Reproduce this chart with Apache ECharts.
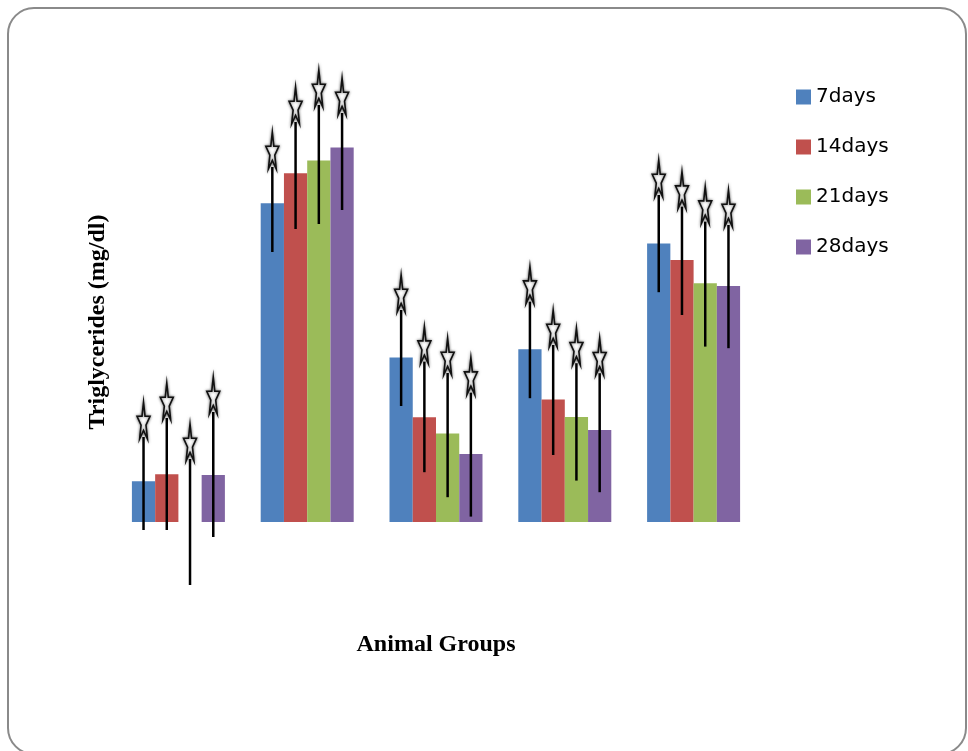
<!DOCTYPE html>
<html>
<head>
<meta charset="utf-8">
<script src="https://cdn.jsdelivr.net/npm/echarts@6/dist/echarts.min.js"></script>
<style>
  html, body { margin: 0; padding: 0; background: #fff; }
  #chart { width: 968px; height: 751px; }
</style>
</head>
<body>
<div id="chart"></div>
<script>
// Animal groups along the x axis (labels are not shown on the axis)
const groups = ['Group I', 'Group II', 'Group III', 'Group IV', 'Group V'];
const seriesNames = ['7days', '14days', '21days', '28days'];
const colors = ['#4F81BD', '#C0504D', '#9BBB59', '#8064A2'];

// Mean triglycerides (mg/dl) per group and period
const day7  = [20.4, 159.4, 82.2, 86.4, 139.2];
const day14 = [23.9, 174.4, 52.4, 61.2, 131.0];
const day21 = [0.0, 180.7, 44.2, 52.5, 119.4];
const day28 = [23.5, 187.2, 34.0, 46.0, 118.0];

// Error bar ends (mg/dl): lower and upper limits
const low7   = [-4.0, 135.0, 58.0, 61.9, 114.9];
const high7  = [42.5, 177.5, 106.0, 110.2, 163.5];
const low14  = [-4.0, 146.5, 24.9, 33.5, 103.5];
const high14 = [52.0, 200.0, 80.2, 88.5, 157.7];
const low21  = [-31.5, 149.0, 12.4, 20.7, 87.7];
const high21 = [31.5, 208.5, 74.5, 79.4, 150.2];
const low28  = [-7.5, 156.0, 2.7, 14.9, 86.9];
const high28 = [55.0, 204.5, 64.7, 74.4, 148.5];

const means = [day7, day14, day21, day28];
const lows = [low7, low14, low21, low28];
const highs = [high7, high14, high21, high28];

const CATEGORY_GAP = 0.278;
const STAR = 'M50 0 L61 35 L98 35 L68 57 L79 91 L50 70 L21 91 L32 57 L2 35 L39 35 Z';

function errorRenderer(k) {
  return function (params, api) {
    const band = api.size([1, 0])[0];
    const bw = band * (1 - CATEGORY_GAP) / seriesNames.length;
    const xOff = (k - (seriesNames.length - 1) / 2) * bw;
    const top = api.coord([api.value(0), api.value(2)]);
    const bot = api.coord([api.value(0), api.value(1)]);
    const x = top[0] + xOff;
    const sw = 13, sh = 37;
    return {
      type: 'group',
      children: [
        {
          type: 'line',
          shape: { x1: x, y1: top[1], x2: x, y2: bot[1] },
          style: { stroke: '#000', lineWidth: 2.5 }
        },
        {
          type: 'path',
          shape: {
            pathData: STAR, layout: 'cover',
            x: x - sw / 2, y: top[1] - sh + 2, width: sw, height: sh
          },
          style: {
            fill: '#fff', stroke: '#111', lineWidth: 1.6,
            shadowBlur: 3, shadowColor: 'rgba(0,0,0,0.55)'
          }
        }
      ]
    };
  };
}

const barSeries = seriesNames.map((name, k) => ({
  name: name,
  type: 'bar',
  data: means[k],
  barGap: '0%',
  barCategoryGap: (CATEGORY_GAP * 100) + '%',
  itemStyle: { color: colors[k] },
  emphasis: { disabled: true }
}));

const errSeries = seriesNames.map((name, k) => ({
  name: name + ' error',
  type: 'custom',
  clip: false,
  z: 5,
  renderItem: errorRenderer(k),
  encode: { x: 0, y: [1, 2] },
  data: groups.map((g, i) => [i, lows[k][i], highs[k][i]])
}));

const chart = echarts.init(document.getElementById('chart'), null, { renderer: 'canvas' });
chart.setOption({
  animation: false,
  backgroundColor: '#fff',
  graphic: [{
    type: 'rect',
    shape: { x: 8, y: 8, width: 958, height: 746, r: 26 },
    style: { fill: 'none', stroke: '#8a8a8a', lineWidth: 2 },
    z: 0,
    silent: true
  }],
  grid: { left: 114, top: 22, width: 644, height: 600 },
  legend: {
    data: seriesNames,
    orient: 'vertical',
    left: 791,
    top: 81,
    itemWidth: 15,
    itemHeight: 15,
    itemGap: 28,
    icon: 'rect',
    textStyle: { fontFamily: 'DejaVu Sans', fontSize: 20, color: '#000', lineHeight: 22 }
  },
  xAxis: {
    type: 'category',
    data: groups,
    name: 'Animal Groups',
    nameLocation: 'middle',
    nameGap: 11,
    nameTextStyle: { fontFamily: 'Liberation Serif', fontWeight: 'bold', fontSize: 24, color: '#000' },
    axisLine: { show: false, onZero: false },
    axisTick: { show: false },
    axisLabel: { show: false },
    splitLine: { show: false }
  },
  yAxis: {
    type: 'value',
    min: -50,
    max: 250,
    name: 'Triglycerides (mg/dl)',
    nameLocation: 'middle',
    nameGap: 4,
    nameTextStyle: { fontFamily: 'Liberation Serif', fontWeight: 'bold', fontSize: 24, color: '#000' },
    axisLine: { show: false },
    axisTick: { show: false },
    axisLabel: { show: false },
    splitLine: { show: false }
  },
  series: barSeries.concat(errSeries)
});
</script>
</body>
</html>
